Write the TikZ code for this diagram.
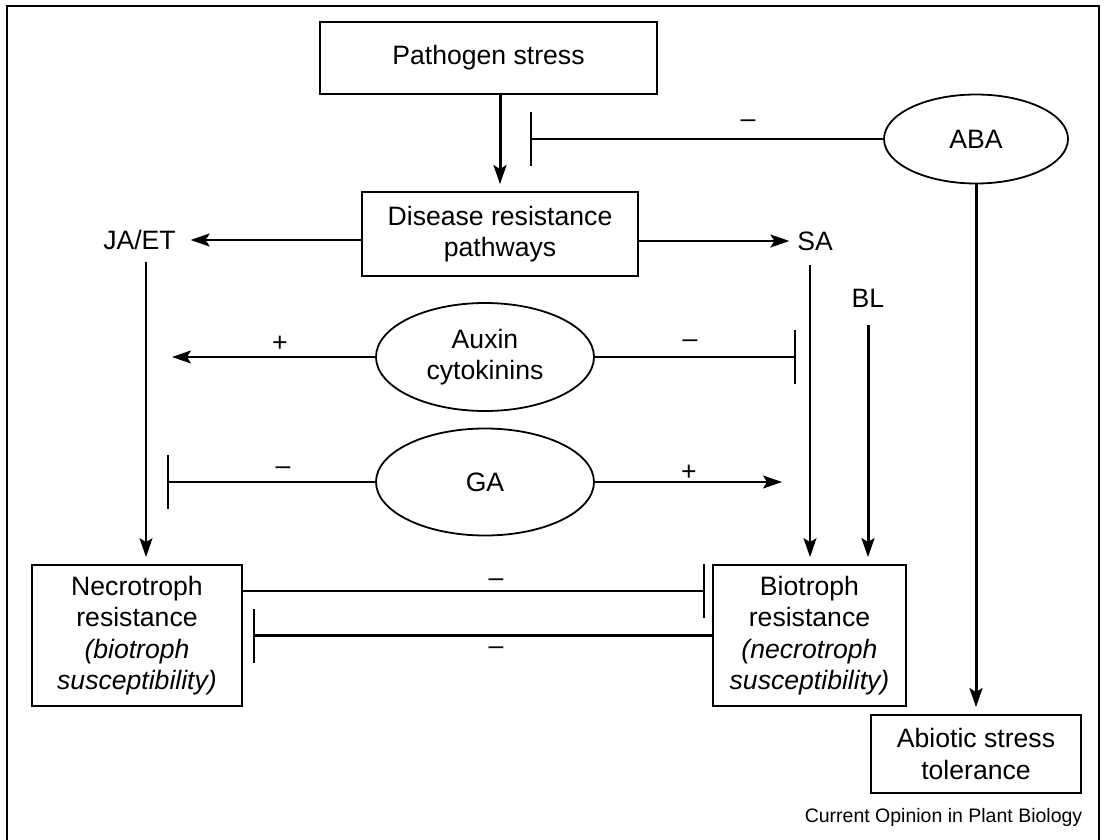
\documentclass[tikz,border=0pt]{standalone}
\usepackage{fontspec}
\setmainfont{Liberation Sans}
\usetikzlibrary{arrows.meta,shapes.geometric}

\begin{document}
\begin{tikzpicture}[x=1pt, y=-1pt, line width=1.8pt,
		lbl/.style={font=\fontsize{26.6}{31.5}\selectfont, align=center, inner sep=0pt},
		box/.style={lbl, draw, rectangle},
		oval/.style={lbl, draw, ellipse},
		act/.style={-{Stealth[length=19pt, width=13pt, inset=4pt]}},
		inh/.style={-{Bar[width=54pt, line width=1.8pt]}},
		gap/.style={shorten >=7pt}]
				%%%%% START %%%%%
				\useasboundingbox (0,0) rectangle (1106,840);
				\draw (7,840) -- (7,6) -- (1099,6) -- (1099,840);
				
				\node[box, minimum width=337pt, minimum height=72pt] (path) at (488.5,58) {Pathogen stress};
				\node[box, minimum width=276pt, minimum height=84pt] (dis) at (500,234) {Disease resistance\\pathways};
				\node[oval, minimum width=184pt, minimum height=89pt] (aba) at (976,139) {ABA};
				
				\node[lbl] (jaet) at (139.5,240) {JA/ET};
				\node[lbl] (sa) at (815,241) {SA};
				\node[lbl] (bl) at (868,298) {BL};
				
				\node[oval, minimum width=218pt, minimum height=108pt] (aux) at (485,357) {Auxin\\cytokinins};
				\node[oval, minimum width=218pt, minimum height=107pt] (ga) at (485,482) {GA};
				
				\node[box, minimum width=210pt, minimum height=141pt] (necro) at (137,635.5) {Necrotroph\\resistance\\\textit{(biotroph}\\\textit{susceptibility)}};
				\node[box, minimum width=193pt, minimum height=141pt] (bio) at (809.5,635.5) {Biotroph\\resistance\\\textit{(necrotroph}\\\textit{susceptibility)}};
				\node[box, minimum width=210pt, minimum height=78pt] (abi) at (976,754) {Abiotic stress\\tolerance};
				
				\node[font=\fontsize{19.5}{22}\selectfont, inner sep=0pt] (src) at (943.5,817) {Current Opinion in Plant Biology};
				
				\coordinate (abaend) at (530,139);
				\coordinate (jadown) at (146,262);
				\coordinate (sadown) at (810,265);
				\coordinate (auxleft) at (172,357);
				\coordinate (auxright) at (796,357);
				\coordinate (galeft) at (167,482);
				\coordinate (garight) at (782,482);
				
				\draw[act, gap, line width=3pt] (path.south -| dis) -- (dis);
				\draw[inh, line width=2.8pt] (aba) -- (abaend);
				\draw[act, gap, line width=3pt] (aba) -- (abi);
				
				\draw[act, shorten >=14pt] (dis.west |- jaet) -- (jaet);
				\draw[act, gap] (dis.east |- sa) -- (sa);
				
				\draw[act, gap, line width=1.5pt] (jadown) -- (jadown |- necro.north);
				\draw[act, gap, line width=1.5pt] (sadown) -- (sadown |- bio.north);
				\draw[act, gap, shorten <=17pt, line width=3pt] (bl) -- (bl |- bio.north);
				
				\draw[act] (aux) -- (auxleft);
				\draw[inh] (aux) -- (auxright);
				\draw[inh] (ga) -- (galeft);
				\draw[act] (ga) -- (garight);
				
				\draw[inh, shorten >=7pt] ([yshift=44.5pt]necro.east) -- ([yshift=44.5pt]bio.west);
				\draw[inh, shorten >=10pt, line width=2.4pt] (bio) -- (necro);
				
				\node[lbl] (abaminus) at (748,124) {--};
				\node[lbl] (auxplus) at (280,344) {+};
				\node[lbl] (auxminus) at (690,344) {--};
				\node[lbl] (gaminus) at (283,471) {--};
				\node[lbl] (gaplus) at (689,473) {+};
				\node[lbl] (topminus) at (496,583) {--};
				\node[lbl] (lowminus) at (496,651) {--};
				%%%%% END %%%%%
\end{tikzpicture}
\end{document}
